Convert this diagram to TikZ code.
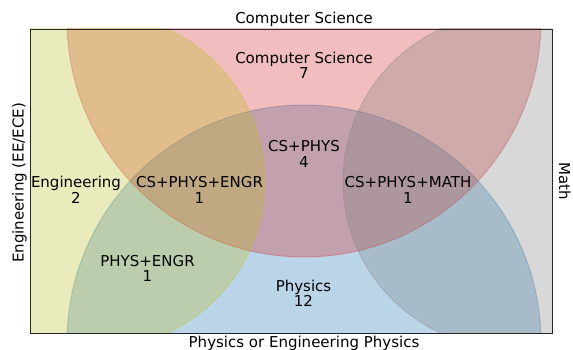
\documentclass[tikz,border=0pt]{standalone}
\usepackage{fontspec}
\setmainfont{DejaVu Sans}
\definecolor{tabolive}{HTML}{BCBD22}
\definecolor{tabred}{HTML}{D62728}
\definecolor{tabblue}{HTML}{1F77B4}
\definecolor{tabgray}{HTML}{7F7F7F}
\begin{document}
\begin{tikzpicture}[x=1pt,y=-1pt,
  region/.style={fill=#1,draw=#1,fill opacity=0.3,draw opacity=0.3,line width=1pt},
  lbl/.style={align=center,inner sep=0pt,text=black,font=\fontsize{15}{15.7}\selectfont},
  axlbl/.style={inner sep=0pt,text=black,font=\fontsize{15}{18}\selectfont}]
\useasboundingbox (0,0) rectangle (573,350);
\begin{scope}
  \clip (30,29) rectangle (552,333);
  \fill[white] (30,29) rectangle (552,333);
  \path[region=tabblue] (304,342) circle[radius=237];
  \path[region=tabred] (304,20) circle[radius=237];
  \path[region=tabolive] (98,181) circle[radius=167];
  \path[region=tabgray] (510,181) circle[radius=167];
\end{scope}
\draw[black!85,line width=0.8pt] (30,29) rectangle (552,333);
% axis labels
\node[axlbl,anchor=base] (title) at (304,24) {Computer Science};
\node[axlbl,anchor=base] (xlab) at (304,347.5) {Physics or Engineering Physics};
\node[axlbl,anchor=base,rotate=90] (ylab) at (23.5,183) {Engineering (EE/ECE)};
\node[axlbl,anchor=base,rotate=-90] (rlab) at (559,181) {Math};
% region labels
\node[lbl] (cs) at (304,65.3) {Computer Science\\7};
\node[lbl] (csphys) at (304,154) {CS+PHYS\\4};
\node[lbl] (eng) at (76,190) {Engineering\\2};
\node[lbl] (cspe) at (199.5,190) {CS+PHYS+ENGR\\1};
\node[lbl] (cspm) at (408,190) {CS+PHYS+MATH\\1};
\node[lbl] (pe) at (147.5,268.3) {PHYS+ENGR\\1};
\node[lbl] (phys) at (303.5,293.3) {Physics\\12};
\end{tikzpicture}
\end{document}
